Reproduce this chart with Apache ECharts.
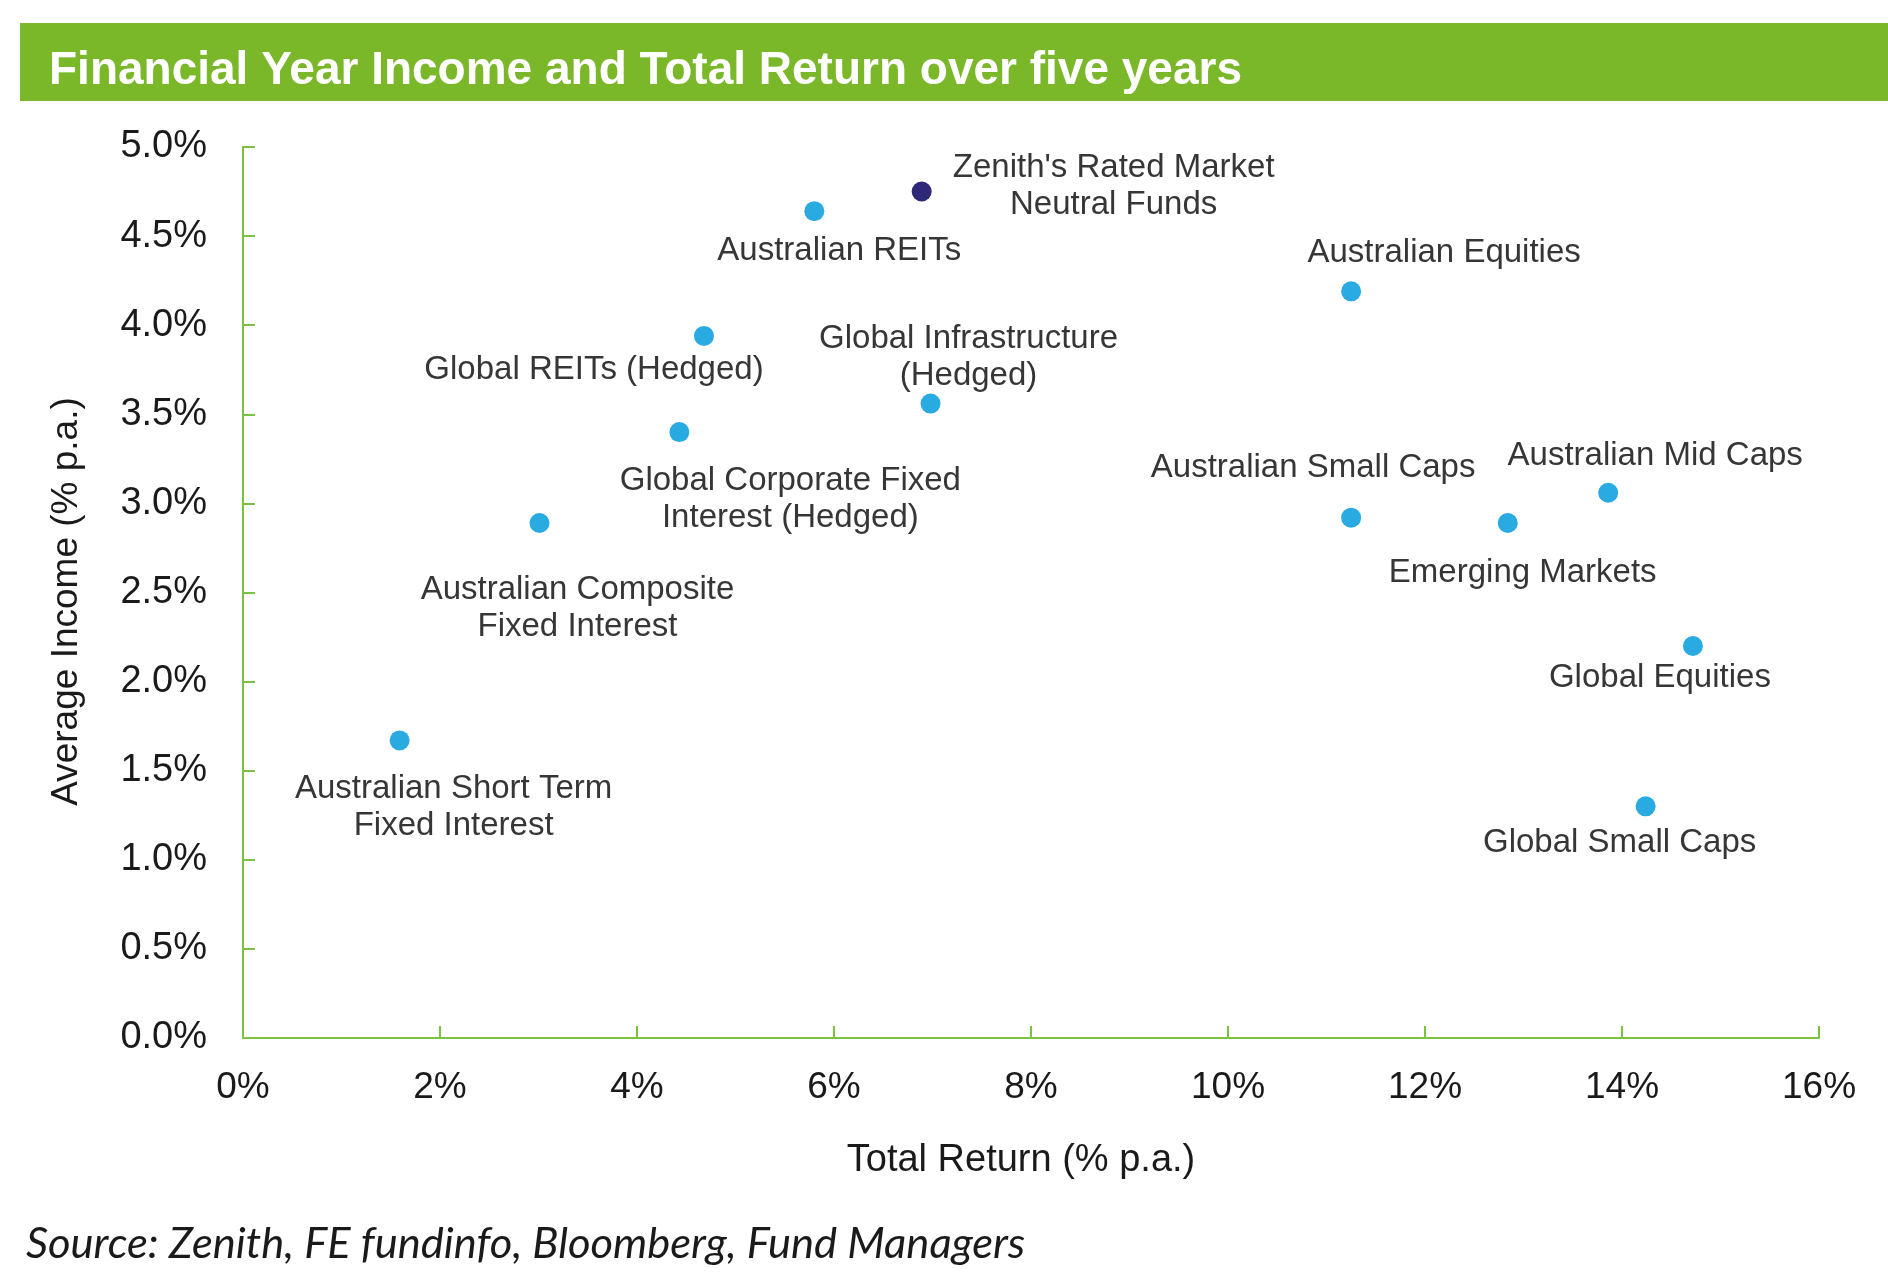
<!DOCTYPE html>
<html>
<head>
<meta charset="utf-8">
<script src="https://cdn.jsdelivr.net/npm/echarts@6/dist/echarts.min.js"></script>
<style>
  html, body { margin: 0; padding: 0; background: #ffffff; }
  #chart { width: 1888px; height: 1288px; }
</style>
</head>
<body>
<div id="chart"></div>
<script>
// ---- Data ----
const assetNames = [
  "Australian Short Term\nFixed Interest",
  "Australian Composite\nFixed Interest",
  "Global Corporate Fixed\nInterest (Hedged)",
  "Global REITs (Hedged)",
  "Australian REITs",
  "Global Infrastructure\n(Hedged)",
  "Australian Equities",
  "Australian Small Caps",
  "Emerging Markets",
  "Australian Mid Caps",
  "Global Equities",
  "Global Small Caps"
];
const assetTotalReturn = [1.59, 3.01, 4.43, 4.68, 5.80, 6.98, 11.25, 11.25, 12.84, 13.86, 14.72, 14.24];
const assetIncome      = [1.67, 2.89, 3.40, 3.94, 4.64, 3.56, 4.19, 2.92, 2.89, 3.06, 2.20, 1.30];

const zenithNames = ["Zenith's Rated Market\nNeutral Funds"];
const zenithTotalReturn = [6.89];
const zenithIncome = [4.75];

const xTickLabels = ["0%", "2%", "4%", "6%", "8%", "10%", "12%", "14%", "16%"];
const yTickLabels = ["0.0%", "0.5%", "1.0%", "1.5%", "2.0%", "2.5%", "3.0%", "3.5%", "4.0%", "4.5%", "5.0%"];

// ---- Layout (label offsets from each point, px) ----
const assetLabelOffsets = [
  [54, 67], [38, 85], [111, 67], [-110, 34], [25, 40], [38, -46],
  [93, -38], [-38, -50], [15, 50], [47, -37], [-33, 32], [-26, 37]
];
const zenithLabelOffsets = [[192, -5]];

const FONT = "'Liberation Sans', Arial, Helvetica, sans-serif";
const GREEN = "#7ab82a";
const AXIS_GREEN = "#7cc142";

function buildData(names, xs, ys, offsets) {
  return names.map((n, i) => ({
    name: n,
    value: [xs[i], ys[i]],
    label: { offset: offsets[i] }
  }));
}

const labelStyle = {
  show: true,
  position: 'inside',
  formatter: p => p.name,
  fontFamily: FONT,
  fontSize: 33,
  lineHeight: 37,
  color: '#363636',
  align: 'center',
  verticalAlign: 'middle'
};

const chart = echarts.init(document.getElementById('chart'), null, { renderer: 'canvas' });

chart.setOption({
  backgroundColor: '#ffffff',
  animation: false,
  title: {
    text: 'Financial Year Income and Total Return over five years',
    left: 49,
    top: 48,
    padding: 0,
    textStyle: {
      color: '#ffffff',
      fontFamily: FONT,
      fontWeight: 'bold',
      fontSize: 46
    }
  },
  graphic: [
    {
      type: 'rect',
      z: -1,
      shape: { x: 20, y: 23, width: 1868, height: 78 },
      style: { fill: GREEN }
    },
    {
      type: 'text',
      style: {
        x: 26,
        y: 1244,
        text: 'Source: Zenith, FE fundinfo, Bloomberg, Fund Managers',
        fontFamily: "Lato, 'Open Sans', sans-serif",
        fontStyle: 'italic',
        fontSize: 43.5,
        fill: '#1a1a1a',
        verticalAlign: 'middle'
      }
    }
  ],
  grid: { left: 243, right: 69, top: 147, bottom: 250, containLabel: false },
  xAxis: {
    type: 'value',
    min: 0, max: 16, interval: 2,
    name: 'Total Return (% p.a.)',
    nameLocation: 'middle',
    nameGap: 104,
    nameTextStyle: { fontFamily: FONT, fontSize: 38, color: '#1a1a1a', padding: [0, 20, 0, 0] },
    axisLine: { show: true, lineStyle: { color: AXIS_GREEN, width: 2 } },
    axisTick: { show: true, inside: true, length: 12, lineStyle: { color: AXIS_GREEN, width: 2 } },
    axisLabel: {
      margin: 31,
      fontFamily: FONT, fontSize: 37, color: '#1a1a1a',
      formatter: v => xTickLabels[Math.round(v / 2)]
    },
    splitLine: { show: false }
  },
  yAxis: {
    type: 'value',
    min: 0, max: 5, interval: 0.5,
    name: 'Average Income (% p.a.)',
    nameLocation: 'middle',
    nameGap: 158,
    nameRotate: 90,
    nameTextStyle: { fontFamily: FONT, fontSize: 37, color: '#1a1a1a', padding: [0, 18, 0, 0] },
    axisLine: { show: true, lineStyle: { color: AXIS_GREEN, width: 2 } },
    axisTick: { show: true, inside: true, length: 12, lineStyle: { color: AXIS_GREEN, width: 2 } },
    axisLabel: {
      margin: 36,
      padding: [8, 0, 0, 0],
      fontFamily: FONT, fontSize: 38, color: '#1a1a1a',
      formatter: v => yTickLabels[Math.round(v / 0.5)]
    },
    splitLine: { show: false }
  },
  series: [
    {
      name: 'Asset classes',
      type: 'scatter',
      symbol: 'circle',
      symbolSize: 20,
      itemStyle: { color: '#29abe2', opacity: 1 },
      label: labelStyle,
      data: buildData(assetNames, assetTotalReturn, assetIncome, assetLabelOffsets)
    },
    {
      name: "Zenith's Rated Market Neutral Funds",
      type: 'scatter',
      symbol: 'circle',
      symbolSize: 20,
      itemStyle: { color: '#2e2878', opacity: 1 },
      label: labelStyle,
      data: buildData(zenithNames, zenithTotalReturn, zenithIncome, zenithLabelOffsets)
    }
  ]
});
</script>
</body>
</html>
